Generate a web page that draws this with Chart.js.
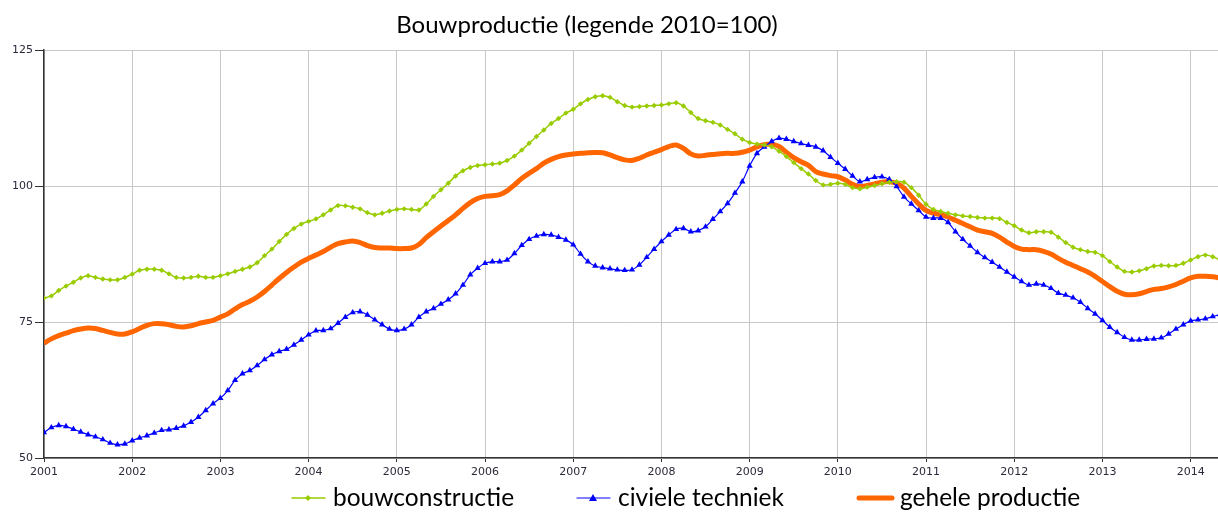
<!DOCTYPE html>
<html lang="nl">
<head>
<meta charset="utf-8">
<script src="https://cdn.jsdelivr.net/npm/chart.js@4.4.1/dist/chart.umd.min.js"></script>
<style>
    html, body { margin: 0; padding: 0; background: #fff; }
    #grafiek { display: block; }
</style>
</head>
<body>
<canvas id="grafiek" width="1218" height="512"></canvas>
<script>
    const titel = 'Bouwproductie (legende 2010=100)';
    const startJaar = 2001;

    // maandcijfers jan 2001 t/m mei 2014
    const bouwconstructie = [
        79.4, 79.8, 80.8, 81.6, 82.3, 83.1, 83.5, 83.2, 82.9, 82.75, 82.75, 83.2,
        83.8, 84.5, 84.7, 84.7, 84.5, 83.85, 83.2, 83.1, 83.2, 83.4, 83.2, 83.2,
        83.5, 83.85, 84.3, 84.7, 85.1, 85.9, 87.2, 88.4, 89.8, 91.1, 92.2, 93.0,
        93.5, 93.95, 94.7, 95.6, 96.4, 96.35, 96.1, 95.8, 95.1, 94.7, 95.0, 95.4,
        95.7, 95.8, 95.7, 95.6, 96.7, 98.1, 99.3, 100.5, 101.85, 102.8, 103.4, 103.75,
        103.9, 104.05, 104.2, 104.7, 105.5, 106.6, 107.85, 109.1, 110.3, 111.5, 112.4, 113.4,
        114.1, 115.1, 115.9, 116.4, 116.6, 116.3, 115.5, 114.8, 114.5, 114.6, 114.7, 114.8,
        114.9, 115.1, 115.3, 114.7, 113.5, 112.4, 112.0, 111.7, 111.2, 110.4, 109.6, 108.6,
        108.0, 107.7, 107.55, 107.2, 106.4, 105.4, 104.3, 103.2, 102.2, 101.0, 100.2, 100.3,
        100.5, 100.3, 99.7, 99.5, 99.8, 100.1, 100.4, 100.7, 100.8, 100.7, 99.7, 98.3,
        96.65, 95.7, 95.3, 95.0, 94.7, 94.5, 94.4, 94.2, 94.1, 94.1, 94.0, 93.3,
        92.7, 91.9, 91.4, 91.6, 91.6, 91.5, 90.6, 89.6, 88.75, 88.3, 87.95, 87.8,
        87.2, 86.1, 85.1, 84.3, 84.2, 84.4, 84.8, 85.3, 85.4, 85.35, 85.4, 85.8,
        86.4, 87.0, 87.3, 87.0, 86.4
    ];
    const civieleTechniek = [
        54.7, 55.6, 56.0, 55.8, 55.3, 54.8, 54.3, 53.9, 53.4, 52.75, 52.45, 52.6,
        53.2, 53.7, 54.1, 54.6, 55.1, 55.2, 55.5, 55.9, 56.6, 57.5, 58.75, 60.0,
        61.0, 62.4, 64.3, 65.5, 66.1, 67.0, 68.1, 69.0, 69.6, 70.0, 70.8, 71.7,
        72.65, 73.4, 73.45, 73.8, 74.8, 75.9, 76.75, 76.9, 76.3, 75.4, 74.5, 73.7,
        73.45, 73.7, 74.5, 75.9, 76.9, 77.5, 78.3, 79.1, 80.2, 81.8, 83.7, 84.9,
        85.8, 86.1, 86.1, 86.4, 87.6, 89.1, 90.2, 90.8, 91.1, 91.0, 90.6, 90.1,
        89.2, 87.5, 86.1, 85.3, 85.0, 84.8, 84.6, 84.5, 84.6, 85.5, 86.9, 88.4,
        89.8, 91.0, 92.05, 92.2, 91.6, 91.8, 92.5, 93.9, 95.3, 96.8, 98.7, 100.8,
        103.7, 106.0, 107.2, 108.2, 108.8, 108.6, 108.2, 107.8, 107.5, 107.2, 106.5, 105.3,
        104.2, 103.1, 101.85, 100.8, 101.2, 101.6, 101.7, 101.2, 99.9, 98.0, 96.7, 95.5,
        94.3, 94.1, 94.1, 93.3, 91.6, 90.2, 89.0, 87.8, 86.85, 86.0, 85.1, 84.2,
        83.3, 82.45, 81.8, 82.0, 81.8, 81.2, 80.3, 79.95, 79.45, 78.65, 77.5, 76.5,
        75.3, 74.05, 73.1, 72.2, 71.7, 71.7, 71.85, 71.9, 72.1, 72.8, 73.7, 74.5,
        75.2, 75.4, 75.6, 76.0, 76.4
    ];
    const geheleProductie = [
        71.1, 71.9, 72.5, 72.95, 73.4, 73.7, 73.9, 73.8, 73.45, 73.1, 72.8, 72.8,
        73.2, 73.8, 74.4, 74.7, 74.7, 74.5, 74.2, 74.1, 74.3, 74.7, 75.0, 75.3,
        75.9, 76.5, 77.4, 78.2, 78.8, 79.6, 80.6, 81.8, 83.0, 84.1, 85.1, 86.0,
        86.7, 87.3, 87.95, 88.75, 89.4, 89.7, 89.9, 89.6, 89.05, 88.7, 88.6, 88.6,
        88.5, 88.5, 88.6, 89.25, 90.5, 91.6, 92.65, 93.65, 94.7, 95.9, 96.95, 97.7,
        98.1, 98.2, 98.4, 99.1, 100.2, 101.4, 102.35, 103.2, 104.2, 104.9, 105.4, 105.7,
        105.9, 106.0, 106.1, 106.15, 106.1, 105.7, 105.2, 104.8, 104.7, 105.1, 105.7, 106.2,
        106.7, 107.25, 107.55, 106.9, 105.9, 105.5, 105.65, 105.8, 105.95, 106.0, 106.0, 106.2,
        106.6, 107.2, 107.6, 107.7, 107.25, 106.2, 105.2, 104.45, 103.8, 102.65, 102.2, 101.9,
        101.7, 101.1, 100.3, 99.9, 100.1, 100.4, 100.7, 100.8, 100.5, 99.6, 98.1, 96.7,
        95.5, 95.0, 94.75, 94.3, 93.7, 93.1, 92.5, 91.9, 91.6, 91.3, 90.6, 89.7,
        88.9, 88.4, 88.3, 88.3, 88.0, 87.5, 86.7, 86.0, 85.4, 84.8, 84.2, 83.4,
        82.45, 81.5, 80.65, 80.1, 80.0, 80.2, 80.6, 81.0, 81.15, 81.45, 81.9, 82.5,
        83.1, 83.4, 83.4, 83.3, 83.1
    ];

    // maanden als decimale jaartallen op de x-as
    const maanden = bouwconstructie.map((_, i) => startJaar + i / 12);
    const alsPunten = reeks => reeks.map((v, i) => ({ x: maanden[i], y: v }));

    const reeksen = [
        { label: 'bouwconstructie', data: alsPunten(bouwconstructie), kleur: '#99cc00', dikte: 1.5, stijl: 'rectRot', straal: 2.7 },
        { label: 'civiele techniek', data: alsPunten(civieleTechniek), kleur: '#0000ff', dikte: 1.2, stijl: 'triangle', straal: 3.6 },
        { label: 'gehele productie', data: alsPunten(geheleProductie), kleur: '#ff6600', dikte: 5, stijl: false, straal: 0 }
    ];

    function tekenSymbool(ctx, r, x, y) {
        ctx.strokeStyle = r.kleur;
        ctx.lineWidth = r.dikte;
        ctx.lineCap = 'round';
        ctx.beginPath();
        ctx.moveTo(x + 2, y);
        ctx.lineTo(x + 35, y);
        ctx.stroke();
        const cx = x + 18;
        ctx.fillStyle = r.kleur;
        ctx.beginPath();
        if (r.stijl === 'rectRot') {
            ctx.moveTo(cx, y - 3); ctx.lineTo(cx + 3, y); ctx.lineTo(cx, y + 3); ctx.lineTo(cx - 3, y);
        } else if (r.stijl === 'triangle') {
            ctx.moveTo(cx, y - 4); ctx.lineTo(cx + 4, y + 3); ctx.lineTo(cx - 4, y + 3);
        }
        ctx.closePath();
        ctx.fill();
    }

    const titelEnLegende = {
        id: 'titelEnLegende',
        afterDraw(chart) {
            const ctx = chart.ctx;
            ctx.save();
            ctx.fillStyle = '#000';
            ctx.textAlign = 'center';
            ctx.textBaseline = 'alphabetic';
            ctx.font = '24px Lato';
            ctx.fillText(titel, 587, 33);

            ctx.textAlign = 'left';
            ctx.font = '24.5px Lato';
            const starts = [290, 575, 857];
            reeksen.forEach((r, i) => {
                tekenSymbool(ctx, r, starts[i], 498);
                ctx.fillStyle = '#000';
                ctx.fillText(r.label, starts[i] + 43, 506);
            });
            ctx.restore();
        }
    };

    new Chart(document.getElementById('grafiek').getContext('2d'), {
        type: 'line',
        data: {
            datasets: reeksen.map(r => ({
                label: r.label,
                data: r.data,
                borderColor: r.kleur,
                backgroundColor: r.kleur,
                borderWidth: r.dikte,
                pointStyle: r.stijl,
                pointRadius: r.straal,
                pointBorderWidth: 0,
                pointBackgroundColor: r.kleur,
                tension: 0.35,
                fill: false
            }))
        },
        options: {
            responsive: false,
            animation: false,
            layout: { autoPadding: false, padding: { top: 50, right: 0, bottom: 32, left: 0 } },
            plugins: {
                legend: { display: false },
                title: { display: false },
                tooltip: { enabled: false }
            },
            scales: {
                x: {
                    type: 'linear',
                    min: 2001,
                    max: 2014.31,
                    afterFit: s => { s.height = 22; },
                    ticks: {
                        stepSize: 1,
                        includeBounds: false,
                        autoSkip: false,
                        maxRotation: 0,
                        padding: 4,
                        color: '#2a2a3a',
                        font: { family: 'DejaVu Sans', size: 11 },
                        callback: v => Number.isInteger(v) ? String(v) : ''
                    },
                    grid: { color: '#c8c8c8', lineWidth: 1, tickLength: 4, tickColor: '#333' },
                    border: { color: '#333', width: 1.5 }
                },
                y: {
                    min: 50,
                    max: 125,
                    afterFit: s => { s.width = 44; },
                    ticks: {
                        stepSize: 25,
                        padding: 2,
                        color: '#2a2a3a',
                        font: { family: 'DejaVu Sans', size: 11 }
                    },
                    grid: { color: '#c8c8c8', lineWidth: 1, tickLength: 9, tickColor: '#333' },
                    border: { color: '#333', width: 1.5 }
                }
            }
        },
        plugins: [titelEnLegende]
    });
</script>
</body>
</html>
